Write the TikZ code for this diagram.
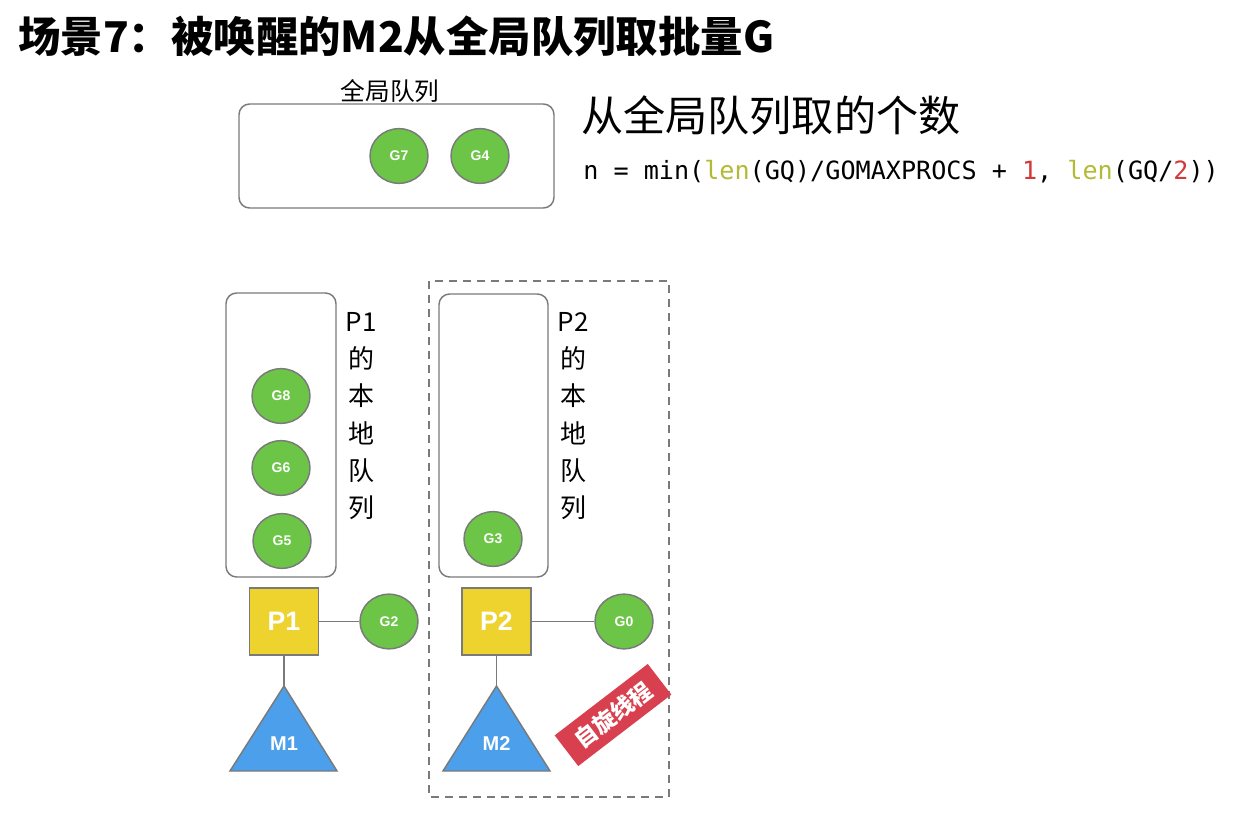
\documentclass[tikz,border=0pt]{standalone}
\usepackage{fontspec}
\setmainfont{Liberation Sans}
\newfontfamily\cjk{Noto Sans CJK SC}
\newfontfamily\mono{DejaVu Sans Mono}
\usetikzlibrary{shapes.geometric}
\definecolor{ggreen}{HTML}{6CC547}
\definecolor{pyellow}{HTML}{EED32F}
\definecolor{mblue}{HTML}{4C9FEA}
\definecolor{sred}{HTML}{D9404F}
\definecolor{lgray}{HTML}{7A7A7A}
\definecolor{lencol}{HTML}{B3BA36}
\definecolor{numcol}{HTML}{D23A3A}
\tikzset{
  gnode/.style={ellipse, draw=lgray, line width=1.1pt, fill=ggreen, text=white,
    font=\bfseries\fontsize{10.5}{10.5}\selectfont, minimum width=43.5pt, minimum height=41pt, inner sep=0pt},
  pnode/.style={rectangle, draw=lgray, line width=1.1pt, fill=pyellow, text=white,
    font=\bfseries\fontsize{20}{20}\selectfont, minimum width=52pt, minimum height=50pt, inner sep=0pt},
  qbox/.style={draw=lgray, line width=1.1pt, rounded corners=8pt},
  link/.style={draw=lgray, line width=1.1pt},
  tri/.style={draw=lgray, line width=1.1pt, fill=mblue},
  mlabel/.style={text=white, font=\bfseries\fontsize{15}{15}\selectfont},
  vlabel/.style={anchor=north, align=center, font=\cjk\fontsize{19.5}{28}\selectfont, inner sep=0pt},
}
\begin{document}
\begin{tikzpicture}[x=0.75pt, y=-0.75pt]
\useasboundingbox (0,0) rectangle (1246,823);
% title
\node[anchor=west, inner sep=0pt] (title) at (18,36) {\cjk\bfseries\fontsize{31.8}{31.8}\selectfont 场景7：被唤醒的M2从全局队列取批量G};
% global queue
\draw[qbox] (239,104) rectangle (554,208);
\node[font=\cjk\fontsize{18.5}{18.5}\selectfont, inner sep=0pt] (gqlabel) at (390,91) {全局队列};
\node[gnode] (g7) at (399,156) {G7};
\node[gnode] (g4) at (480,156) {G4};
% formula
\node[anchor=west, inner sep=0pt, font=\cjk\fontsize{31.6}{31.6}\selectfont] (ftitle) at (581,115) {从全局队列取的个数};
\node[anchor=west, inner sep=0pt, font=\mono\fontsize{18.85}{18.85}\selectfont] (formula) at (583,172)
  {n = min(\textcolor{lencol}{len}(GQ)/GOMAXPROCS + \textcolor{numcol}{1}, \textcolor{lencol}{len}(GQ/\textcolor{numcol}{2}))};
% P1 side
\draw[qbox] (226,293) rectangle (336,577);
\node[vlabel] (p1lab) at (361,312) {P1\\的\\本\\地\\队\\列};
\node[gnode] (g8) at (281,396) {G8};
\node[gnode] (g6) at (281,468) {G6};
\node[gnode] (g5) at (282,541) {G5};
\node[pnode] (p1) at (284,621.5) {P1};
\node[gnode] (g2) at (389,621.5) {G2};
\draw[link] (p1.east) -- (g2.west);
\coordinate (m1top) at (284,686);
\draw[tri] (m1top) -- (337,771) -- (230,771) -- cycle;
\node[mlabel] (m1) at (284,744) {M1};
\draw[link] (p1.south) -- (m1top);
% P2 side
\draw[lgray, line width=1.1pt, dash pattern=on 6pt off 4.5pt] (429,281) rectangle (669,797);
\draw[qbox] (439,294) rectangle (548,577);
\node[vlabel] (p2lab) at (573,312) {P2\\的\\本\\地\\队\\列};
\node[gnode] (g3) at (493,539) {G3};
\node[pnode] (p2) at (496.5,621.5) {P2};
\node[gnode] (g0) at (624,621.5) {G0};
\draw[link] (p2.east) -- (g0.west);
\coordinate (m2top) at (496.5,686);
\draw[tri] (m2top) -- (550,771) -- (443,771) -- cycle;
\node[mlabel] (m2) at (496.5,744) {M2};
\draw[link] (p2.south) -- (m2top);
% spin stamp
\node[rotate=37.5, fill=sred, text=white, font=\cjk\bfseries\fontsize{17}{17}\selectfont,
  minimum width=88pt, minimum height=29pt, inner sep=0pt] (spin) at (613,715) {自旋线程};
\end{tikzpicture}
\end{document}
